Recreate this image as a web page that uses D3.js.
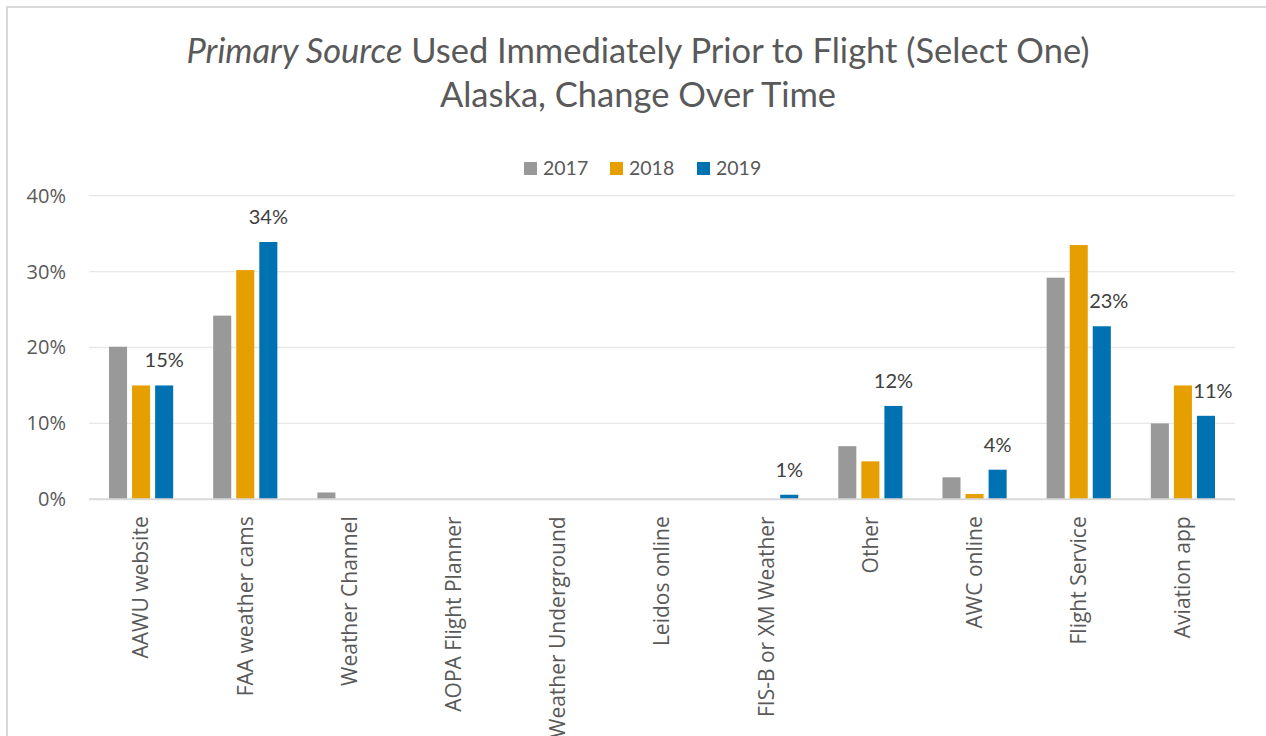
<!DOCTYPE html>
<html>
<head>
<meta charset="utf-8">
<script src="https://cdn.jsdelivr.net/npm/d3@7"></script>
<style>
  body { margin: 0; background: #fff; }
  svg { display: block; }
</style>
</head>
<body>
<svg id="chart" width="1266" height="736"></svg>
<script>
var categories = ['AAWU website', 'FAA weather cams', 'Weather Channel', 'AOPA Flight Planner',
  'Weather Underground', 'Leidos online', 'FIS-B or XM Weather', 'Other', 'AWC online',
  'Flight Service', 'Aviation app']
var years = ['2017', '2018', '2019']
var v2017 = [20.1, 24.2, 0.9, 0, 0, 0, 0, 7.0, 2.9, 29.2, 10.0]
var v2018 = [15.0, 30.2, 0, 0, 0, 0, 0, 5.0, 0.7, 33.5, 15.0]
var v2019 = [15.0, 33.9, 0, 0, 0, 0, 0.6, 12.3, 3.9, 22.8, 11.0]
var yTicks = [0, 10, 20, 30, 40]
var colors = ['#999999', '#E69F00', '#0072B2']

var series = [v2017, v2018, v2019]

var dims = { width: 1266, height: 736, left: 89, right: 1235, top: 195.7, bottom: 499.3 }

var svg = d3.select('#chart')

// chart frame (only top/left edges visible in the picture)
svg.append('rect')
  .attr('x', 7).attr('y', 7)
  .attr('width', 1300).attr('height', 800)
  .attr('fill', 'none')
  .attr('stroke', '#d9d9d9')
  .attr('stroke-width', 2)

var x0 = d3.scaleBand()
  .domain(categories)
  .range([dims.left, dims.right])
  .paddingInner(0.384)
  .paddingOuter(0.192)

var x1 = d3.scaleBand()
  .domain(years)
  .range([0, x0.bandwidth()])
  .paddingInner(0.217)

var y = d3.scaleLinear()
  .domain([0, 40])
  .range([dims.bottom, dims.top])

// gridlines
svg.append('g').selectAll('line')
  .data(yTicks.filter(d => d > 0))
  .enter().append('line')
  .attr('x1', dims.left).attr('x2', dims.right)
  .attr('y1', d => y(d)).attr('y2', d => y(d))
  .attr('stroke', '#e8e8e8')
  .attr('stroke-width', 1.3)

// y axis labels
var yAxis = d3.axisLeft(y).tickValues(yTicks).tickFormat(d => d + '%').tickSize(0).tickPadding(0)
var gy = svg.append('g').attr('transform', 'translate(66,0)').call(yAxis)
gy.select('.domain').remove()
gy.selectAll('text')
  .attr('font-family', '"Open Sans", sans-serif')
  .attr('font-size', 20)
  .attr('fill', '#595959')

// bars
var groups = svg.append('g').selectAll('g')
  .data(categories)
  .enter().append('g')
  .attr('transform', d => 'translate(' + x0(d) + ',0)')

groups.selectAll('rect')
  .data((c, i) => years.map((yr, j) => ({ year: yr, value: series[j][i], j: j })).filter(d => d.value > 0))
  .enter().append('rect')
  .attr('x', d => x1(d.year))
  .attr('width', x1.bandwidth())
  .attr('y', d => y(d.value))
  .attr('height', d => y(0) - y(d.value))
  .attr('fill', d => colors[d.j])

// baseline
svg.append('line')
  .attr('x1', dims.left).attr('x2', dims.right)
  .attr('y1', y(0)).attr('y2', y(0))
  .attr('stroke', '#d9d9d9')
  .attr('stroke-width', 2)

// data labels on 2019 series
svg.append('g').selectAll('text')
  .data(categories.map((c, i) => ({ cat: c, value: v2019[i], prev: v2018[i] })).filter(d => d.value > 0))
  .enter().append('text')
  .attr('x', d => {
    var cx = x0(d.cat) + x1('2019') + x1.bandwidth() / 2
    // nudge right when the 2018 bar reaches the label
    return y(d.prev) < y(d.value) - 18 ? cx + 7 : cx
  })
  .attr('y', d => y(d.value) - 18)
  .attr('text-anchor', 'middle')
  .attr('font-family', 'Lato, sans-serif')
  .attr('font-size', 20)
  .attr('fill', '#404040')
  .text(d => Math.round(d.value) + '%')

// category labels
svg.append('g').selectAll('text')
  .data(categories)
  .enter().append('text')
  .attr('transform', d => 'translate(' + (x0(d) + x0.bandwidth() / 2) + ',' + (dims.bottom + 17) + ') rotate(-90)')
  .attr('text-anchor', 'end')
  .attr('dy', '0.35em')
  .attr('font-family', '"Open Sans", sans-serif')
  .attr('font-size', 21)
  .attr('fill', '#595959')
  .text(d => d)

// title
var title = svg.append('text')
  .attr('x', 638).attr('y', 63)
  .attr('text-anchor', 'middle')
  .attr('font-family', 'Lato, sans-serif')
  .attr('font-size', 34.5)
  .attr('fill', '#595959')
title.append('tspan').attr('font-style', 'italic').text('Primary Source')
title.append('tspan').text(' Used Immediately Prior to Flight (Select One)')

svg.append('text')
  .attr('x', 638).attr('y', 107)
  .attr('text-anchor', 'middle')
  .attr('font-family', 'Lato, sans-serif')
  .attr('font-size', 34.5)
  .attr('fill', '#595959')
  .text('Alaska, Change Over Time')

// legend
var legendX = [524, 610, 697]
var legend = svg.append('g').selectAll('g')
  .data(years)
  .enter().append('g')
  .attr('transform', (d, i) => 'translate(' + legendX[i] + ',162)')
legend.append('rect')
  .attr('width', 13).attr('height', 13)
  .attr('fill', (d, i) => colors[i])
legend.append('text')
  .attr('x', 19).attr('y', 13)
  .attr('font-family', 'Lato, sans-serif')
  .attr('font-size', 19.5)
  .attr('fill', '#595959')
  .text(d => d)
</script>
</body>
</html>
